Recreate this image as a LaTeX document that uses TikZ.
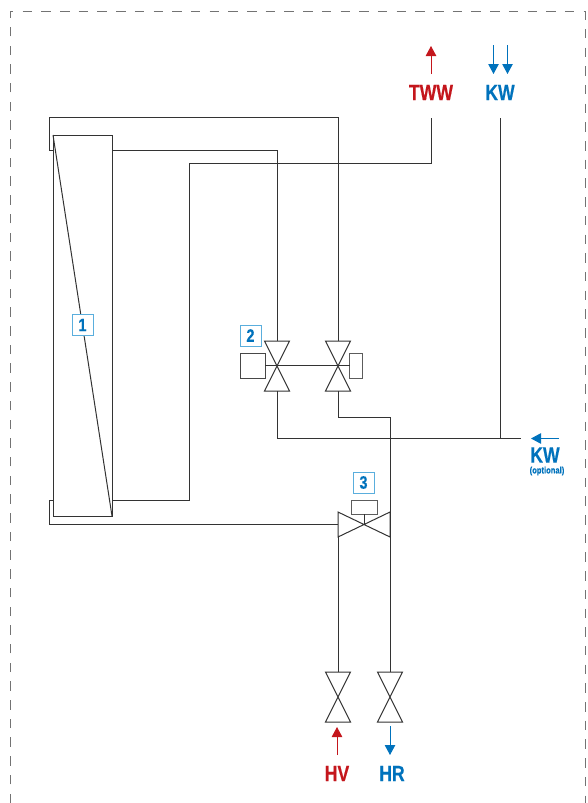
\documentclass[tikz,border=0pt]{standalone}
\usepackage{fontspec}
\setmainfont{Liberation Sans}
\newfontfamily\narrowfont[FakeStretch=0.8,FakeBold=0.4]{Liberation Sans Bold}
\usetikzlibrary{arrows.meta}
\definecolor{pipegray}{HTML}{333333}
\definecolor{flowred}{HTML}{C4161C}
\definecolor{flowblue}{HTML}{0072BC}
\definecolor{boxblue}{HTML}{5AAEDD}
\tikzset{
    pipe/.style={draw=pipegray,line width=1pt,line join=miter},
    valve/.style={inner sep=0pt,outer sep=0pt,minimum width=25pt,minimum height=50pt},
    flat/.style={inner sep=0pt,outer sep=0pt,minimum width=52pt,minimum height=25pt},
    numbox/.style={draw=boxblue,line width=1pt,fill=white,text=flowblue,inner sep=0pt,minimum width=21pt,minimum height=21pt,font=\narrowfont\fontsize{18}{18}\selectfont},
    flowlabel/.style={inner sep=0pt,font=\narrowfont\fontsize{22}{22}\selectfont},
    flowarrow/.style={line width=1pt,-{Triangle[length=10pt,width=10.5pt]}},
}
\begin{document}
\begin{tikzpicture}[x=1pt,y=-1pt]
    \useasboundingbox (0,0) rectangle (587,803);

    \coordinate (FL) at (10,803);
    \coordinate (FA) at (10,11.5);
    \coordinate (FB) at (585,11.5);
    \coordinate (FR) at (585,803);
    \draw [gray!90!black,line width=0.9pt,dash pattern=on 9.5pt off 9.2pt] (FL) -- (FA) -- (FB) -- (FR);

    \node (HE) at (82.5,325.5) [draw=pipegray,line width=1pt,inner sep=0pt,outer sep=0pt,minimum width=59pt,minimum height=381pt] {};
    \node (V1) at (277,366) [valve] {};
    \node (V2) at (338,366) [valve] {};
    \node (V3) at (364,524.5) [flat] {};
    \node (V4) at (338,697) [valve] {};
    \node (V5) at (390,697) [valve] {};
    \node (M1) at (252.5,365.5) [draw=pipegray!90,line width=1pt,inner sep=0pt,outer sep=0pt,minimum width=25pt,minimum height=25pt] {};
    \node (M2) at (356,365.5) [draw=pipegray!80,line width=1pt,inner sep=0pt,outer sep=0pt,minimum width=13pt,minimum height=25pt] {};
    \node (M3) at (364,507) [draw=pipegray!80,line width=1pt,inner sep=0pt,outer sep=0pt,minimum width=26pt,minimum height=14pt] {};

    \foreach \v in {V1,V2,V4,V5}
        \draw [pipe] (\v.north west) -- (\v.north east) -- (\v.south west) -- (\v.south east) -- cycle;
    \draw [pipe] (V3.north west) -- (V3.south east) -- (V3.north east) -- (V3.south west) -- cycle;

    \draw [pipe] (HE.north west) -- (HE.south east);
    \draw [pipe] (M1) -- (M2);
    \draw [pipe] (M3.south) -- (V3.center);

    \coordinate (A1) at (53,150.5);
    \coordinate (A2) at (49.5,117.5);
    \coordinate (B1) at (112,150.5);
    \coordinate (C1) at (112,500.5);
    \coordinate (C2) at (189,163);
    \coordinate (TW) at (431,118);
    \coordinate (KA) at (500,118);
    \coordinate (KB) at (500,438);
    \coordinate (KE) at (521,438);
    \coordinate (D1) at (53,500.5);
    \coordinate (D2) at (49.5,524.5);
    \coordinate (E1) at (390,417);

    \draw [pipe] (A1) -| (A2) -| (V2.north);
    \draw [pipe] (B1) -| (V1.north);
    \draw [pipe] (C1) -| (C2) -| (TW);
    \draw [pipe] (KA) -- (KB);
    \draw [pipe] (V1.south) |- (KE);
    \draw [pipe] (V2.south) |- (E1) -- (V5.north);
    \draw [pipe] (D1) -| (D2) -- (V3.west);
    \draw [pipe] (V3.south west) -- (V4.north);

    \node (N1) at (82.5,325) [numbox] {1};
    \node (N2) at (250.5,335.5) [numbox] {2};
    \node (N3) at (363.5,482.5) [numbox] {3};

    \node (TWW) at (431,92.5) [flowlabel,text=flowred] {TWW};
    \node (KW) at (500,92.5) [flowlabel,text=flowblue] {KW};
    \node (KO) at (545,455) [flowlabel,text=flowblue] {KW};
    \node (OP) at (547,471) [inner sep=0pt,text=flowblue,font=\narrowfont\fontsize{9.5}{10}\selectfont] {(optional)};
    \node (HV) at (337,773.5) [flowlabel,text=flowred] {HV};
    \node (HR) at (392,773.5) [flowlabel,text=flowblue] {HR};

    \coordinate (a1) at (431,74);
    \coordinate (a2) at (431,46);
    \coordinate (a3) at (493.5,45);
    \coordinate (a4) at (493.5,74);
    \coordinate (a5) at (507.5,45);
    \coordinate (a6) at (507.5,74);
    \coordinate (a7) at (559,438.5);
    \coordinate (a8) at (531,438.5);
    \coordinate (a9) at (337,755);
    \coordinate (a10) at (337,727);
    \coordinate (a11) at (390,726);
    \coordinate (a12) at (390,755);

    \draw [flowarrow,flowred] (a1) -- (a2);
    \draw [flowarrow,flowblue] (a3) -- (a4);
    \draw [flowarrow,flowblue] (a5) -- (a6);
    \draw [flowarrow,flowblue] (a7) -- (a8);
    \draw [flowarrow,flowred] (a9) -- (a10);
    \draw [flowarrow,flowblue] (a11) -- (a12);
\end{tikzpicture}
\end{document}
